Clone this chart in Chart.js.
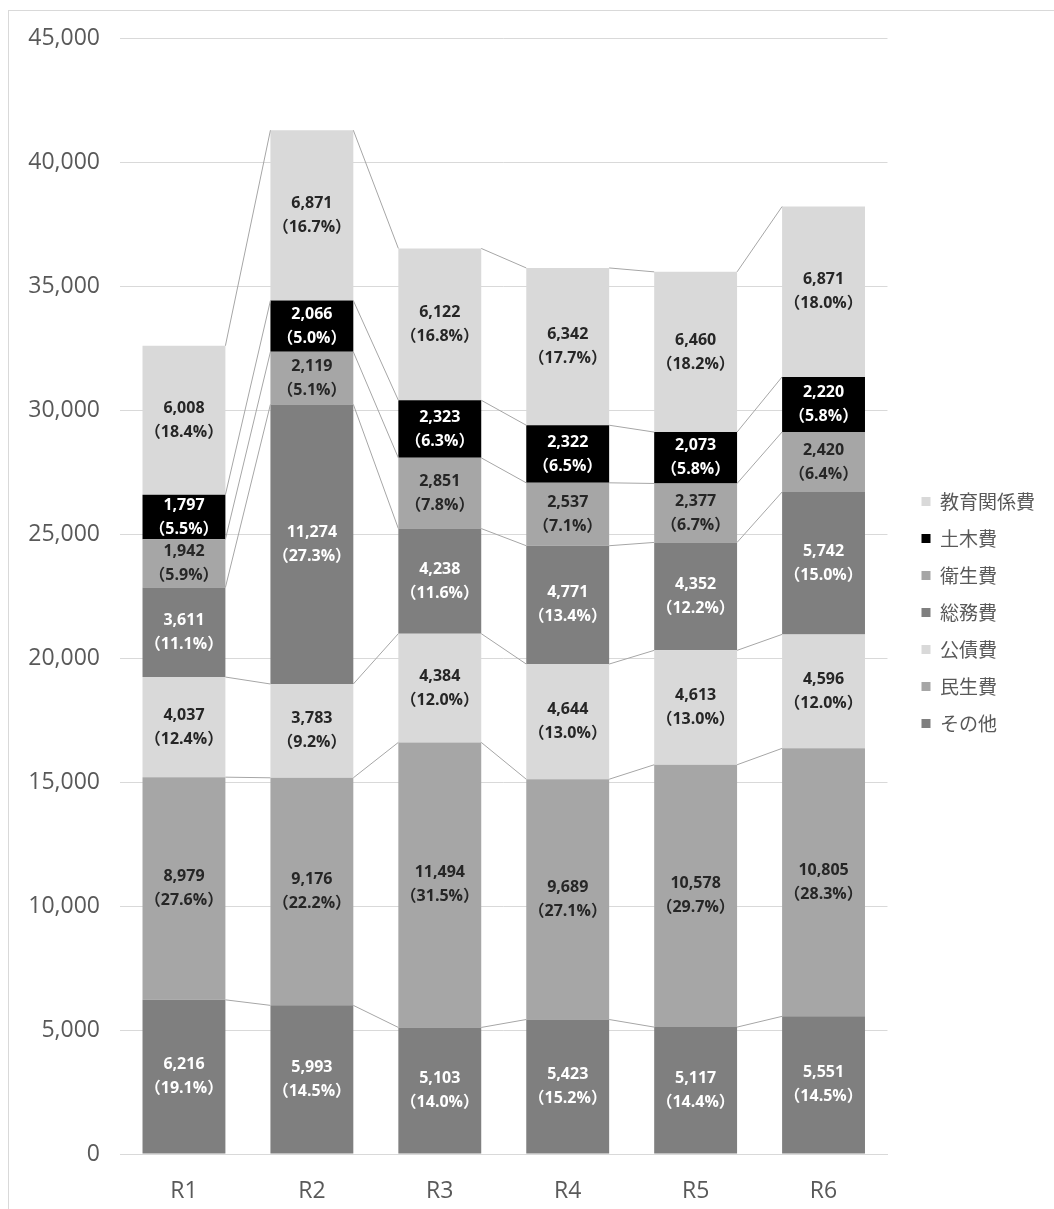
<!DOCTYPE html>
<html lang="ja">
<head>
<meta charset="UTF-8">
<title>歳出の推移</title>
<script src="https://cdn.jsdelivr.net/npm/chart.js@4.4.0/dist/chart.umd.min.js"></script>
<style>
  html, body { margin: 0; padding: 0; background: #fff; overflow: hidden; }
  #wrap { position: relative; width: 1054px; height: 1209px; overflow: hidden; }
  #frame { position: absolute; left: 8px; top: 10px; width: 1200px; height: 1400px; border: 1px solid #d9d9d9; }
  #wrap canvas { position: absolute; left: 0; top: 0; }
</style>
</head>
<body>
<div id="wrap">
  <div id="frame"></div>
  <canvas id="chart" width="1054" height="1209"></canvas>
</div>
<script>
const years = ['R1', 'R2', 'R3', 'R4', 'R5', 'R6'];

// bottom of the stack first
const sonota   = [6216, 5993, 5103, 5423, 5117, 5551];
const minsei   = [8979, 9176, 11494, 9689, 10578, 10805];
const kousai   = [4037, 3783, 4384, 4644, 4613, 4596];
const soumu    = [3611, 11274, 4238, 4771, 4352, 5742];
const eisei    = [1942, 2119, 2851, 2537, 2377, 2420];
const doboku   = [1797, 2066, 2323, 2322, 2073, 2220];
const kyouiku  = [6008, 6871, 6122, 6342, 6460, 6871];

// shares printed under each value
const sonotaPct  = [19.1, 14.5, 14.0, 15.2, 14.4, 14.5];
const minseiPct  = [27.6, 22.2, 31.5, 27.1, 29.7, 28.3];
const kousaiPct  = [12.4, 9.2, 12.0, 13.0, 13.0, 12.0];
const soumuPct   = [11.1, 27.3, 11.6, 13.4, 12.2, 15.0];
const eiseiPct   = [5.9, 5.1, 7.8, 7.1, 6.7, 6.4];
const dobokuPct  = [5.5, 5.0, 6.3, 6.5, 5.8, 5.8];
const kyouikuPct = [18.4, 16.7, 16.8, 17.7, 18.2, 18.0];

const yTicks = [0, 5000, 10000, 15000, 20000, 25000, 30000, 35000, 40000, 45000];

const DARK = '#7f7f7f', MID = '#a6a6a6', LIGHT = '#d9d9d9';

const series = [
  { label: 'その他',     data: sonota,  pct: sonotaPct,  color: DARK,  text: '#ffffff' },
  { label: '民生費',     data: minsei,  pct: minseiPct,  color: MID,   text: '#262626' },
  { label: '公債費',     data: kousai,  pct: kousaiPct,  color: LIGHT, text: '#262626' },
  { label: '総務費',     data: soumu,   pct: soumuPct,   color: DARK,  text: '#ffffff' },
  { label: '衛生費',     data: eisei,   pct: eiseiPct,   color: MID,   text: '#262626' },
  { label: '土木費',     data: doboku,  pct: dobokuPct,  color: '#000000', text: '#ffffff' },
  { label: '教育関係費', data: kyouiku, pct: kyouikuPct, color: LIGHT, text: '#262626' }
];

// thin grey lines joining the top of each segment to the next bar
const seriesLines = {
  id: 'seriesLines',
  afterDatasetsDraw(chart) {
    const ctx = chart.ctx;
    ctx.save();
    ctx.strokeStyle = '#a6a6a6';
    ctx.lineWidth = 1;
    chart.data.datasets.forEach((ds, d) => {
      const bars = chart.getDatasetMeta(d).data;
      for (let i = 0; i < bars.length - 1; i++) {
        const a = bars[i], b = bars[i + 1];
        ctx.beginPath();
        ctx.moveTo(a.x + a.width / 2, a.y);
        ctx.lineTo(b.x - b.width / 2, b.y);
        ctx.stroke();
      }
    });
    ctx.restore();
  }
};

// value + share in the middle of each segment
const segLabels = {
  id: 'segLabels',
  afterDatasetsDraw(chart) {
    const ctx = chart.ctx;
    ctx.save();
    ctx.font = 'bold 16px "Open Sans", "Noto Sans CJK JP", sans-serif';
    ctx.textAlign = 'center';
    ctx.textBaseline = 'middle';
    chart.data.datasets.forEach((ds, d) => {
      const s = series[d];
      chart.getDatasetMeta(d).data.forEach((el, i) => {
        const cy = (el.y + el.base) / 2;
        ctx.fillStyle = s.text;
        ctx.fillText(ds.data[i].toLocaleString('en-US'), el.x, cy - 12);
        ctx.fillText('（' + s.pct[i].toFixed(1) + '%）', el.x, cy + 12);
      });
    });
    ctx.restore();
  }
};

// nudge the legend away from the plot, like the original layout
const legendShift = {
  id: 'legendShift',
  afterLayout(chart) {
    const lg = chart.legend;
    lg.left += 16; lg.right += 16;
    lg.top -= 11; lg.bottom -= 11;
  }
};

new Chart(document.getElementById('chart'), {
  type: 'bar',
  data: {
    labels: years,
    datasets: series.map(s => ({
      label: s.label,
      data: s.data,
      backgroundColor: s.color,
      borderWidth: 0,
      categoryPercentage: 1,
      barPercentage: 0.648
    }))
  },
  options: {
    responsive: false,
    animation: false,
    layout: { padding: { top: 38, right: 25, bottom: 0, left: 0 } },
    scales: {
      x: {
        stacked: true,
        grid: { display: false },
        border: { color: '#d9d9d9' },
        ticks: { color: '#595959', font: { family: '"Open Sans", sans-serif', size: 23 }, padding: 16 },
        afterFit(scale) { scale.height = 55; }
      },
      y: {
        stacked: true,
        min: 0,
        max: 45000,
        grid: { color: '#d9d9d9', drawTicks: false },
        border: { display: false },
        afterBuildTicks(scale) { scale.ticks = yTicks.map(v => ({ value: v })); },
        ticks: {
          color: '#595959',
          font: { family: '"Open Sans", sans-serif', size: 23 },
          padding: 20,
          callback: v => v.toLocaleString('en-US')
        },
        afterFit(scale) { scale.width = 120; }
      }
    },
    plugins: {
      tooltip: { enabled: false },
      legend: {
        position: 'right',
        reverse: true,
        labels: {
          boxWidth: 9,
          boxHeight: 9,
          padding: 18,
          color: '#595959',
          font: { family: '"Noto Sans CJK JP", sans-serif', size: 19 }
        }
      }
    }
  },
  plugins: [seriesLines, segLabels, legendShift]
});
</script>
</body>
</html>
